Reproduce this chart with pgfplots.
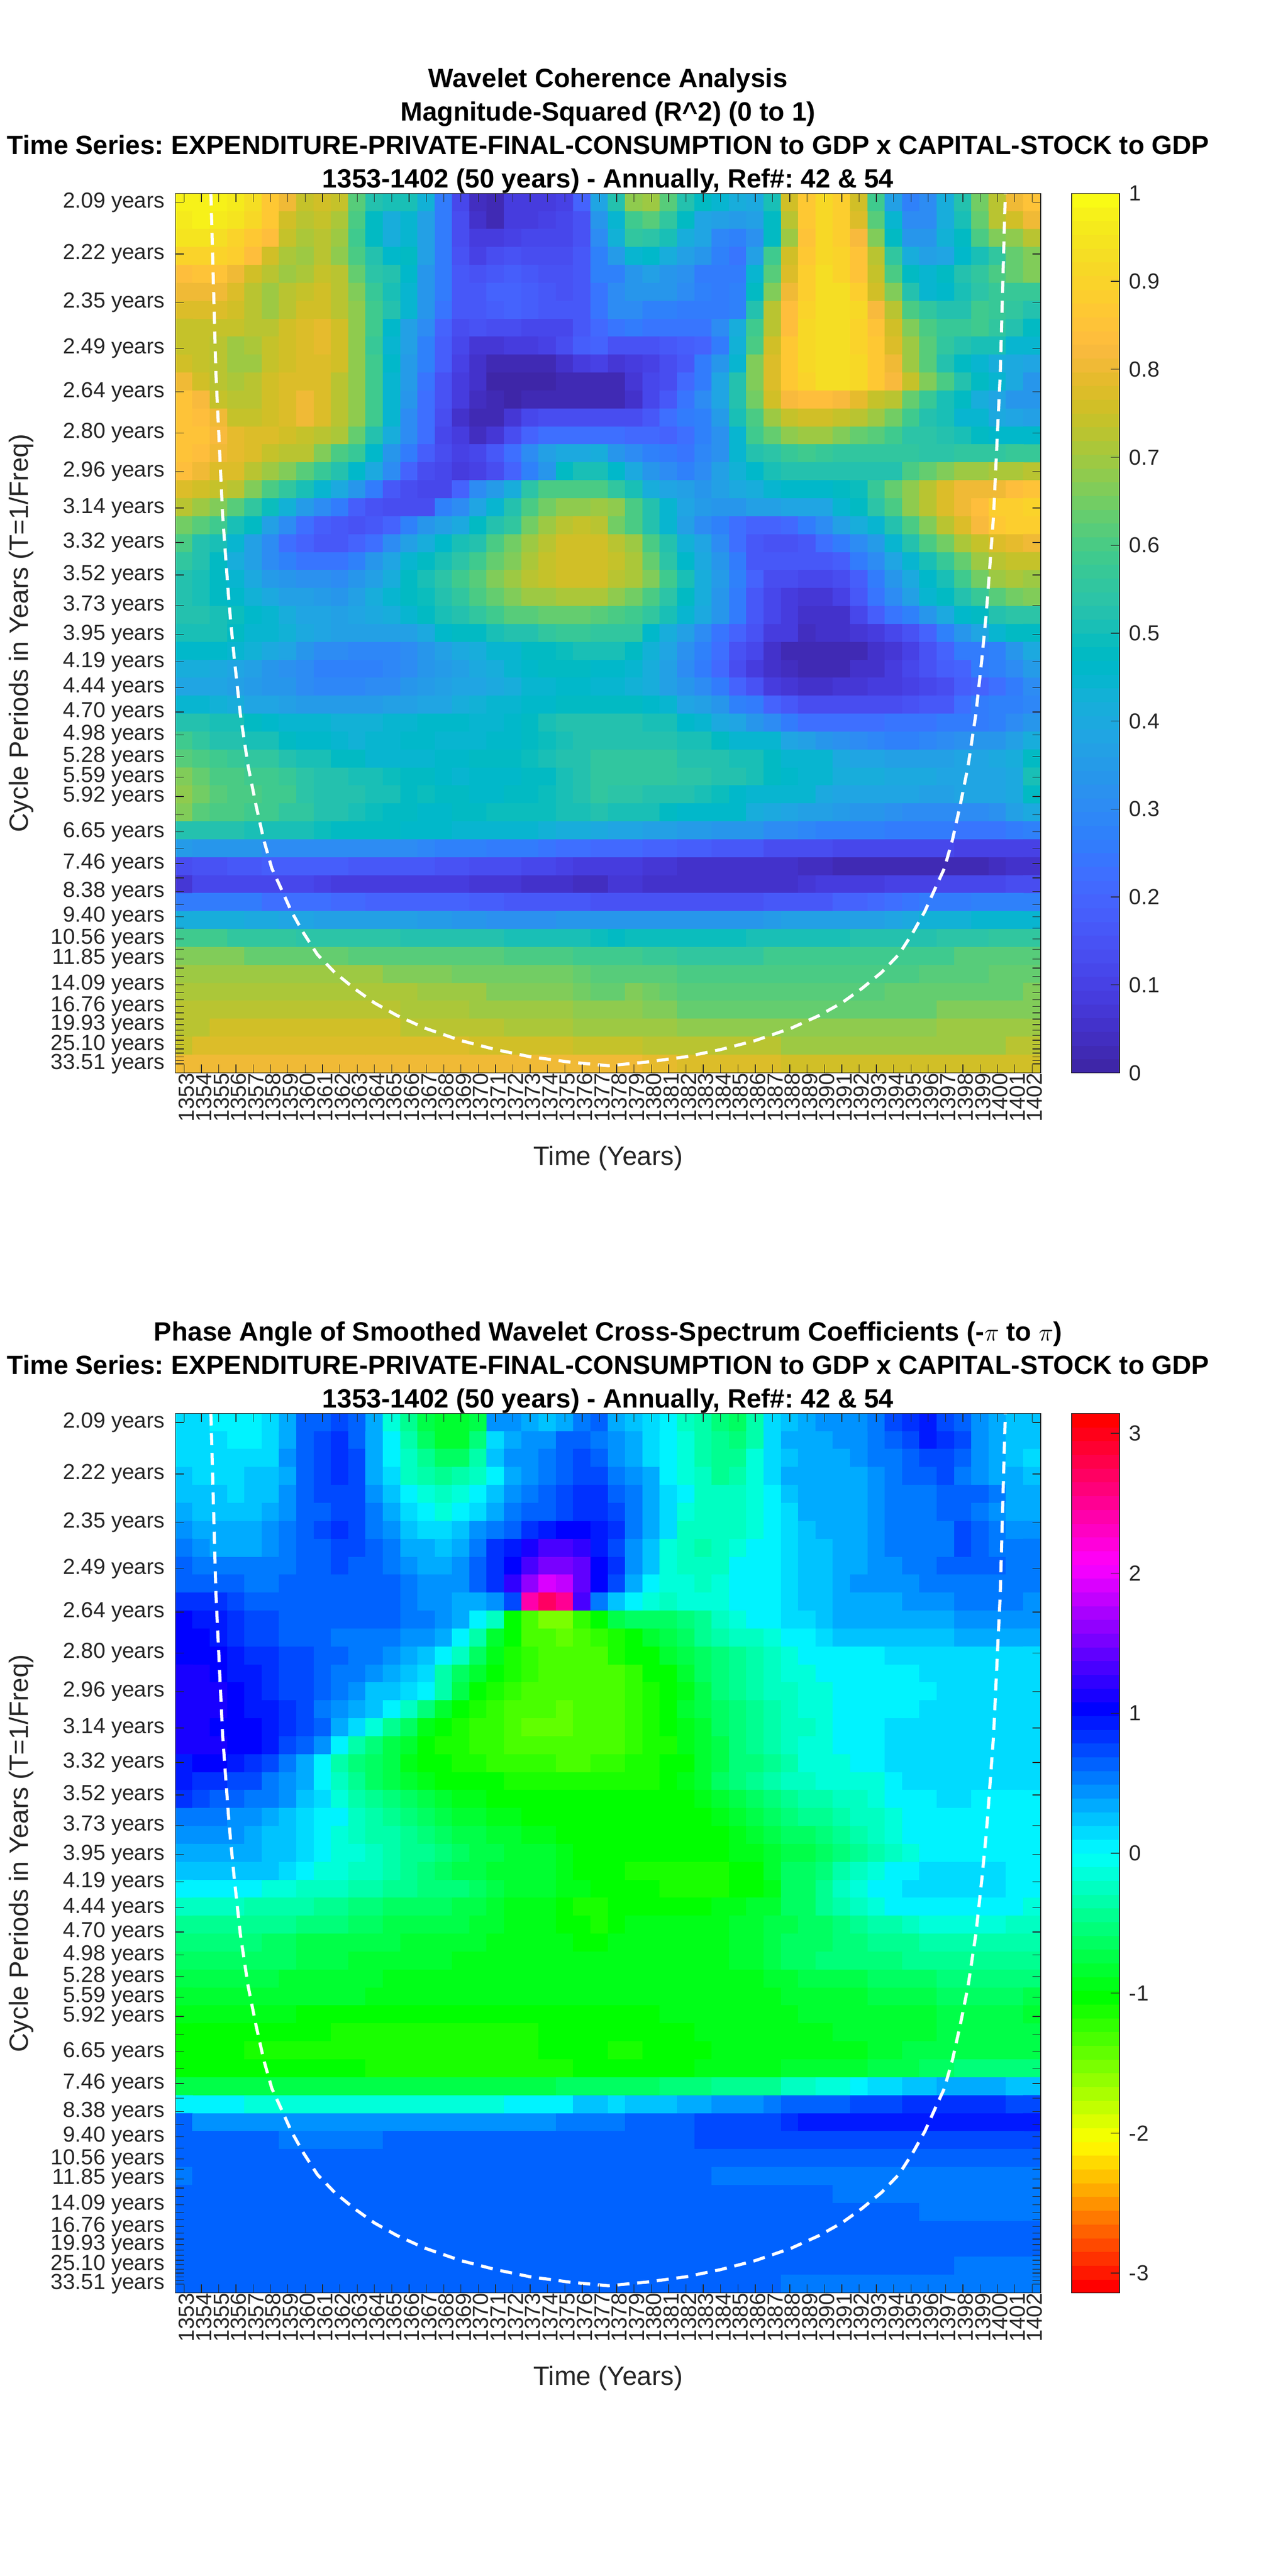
\documentclass[border=0pt]{standalone}
\usepackage{pgfplots}
\pgfplotsset{compat=1.18}
\usepackage{fontspec}
\setmainfont{Liberation Sans}
\frenchspacing
\definecolor{axc}{rgb}{.15,.15,.15}
\newcommand\TL[1]{{\fontsize{12.7}{12.7}\selectfont #1}}
\pgfplotsset{colorbar shift/.style={xshift=18pt}}
\pgfplotsset{colormap={parulaM}{
rgb=(0.2422,0.1504,0.6603) rgb=(0.2504,0.1650,0.7076) rgb=(0.2578,0.1818,0.7511) rgb=(0.2647,0.1978,0.7952)
rgb=(0.2706,0.2147,0.8364) rgb=(0.2751,0.2342,0.8710) rgb=(0.2783,0.2559,0.8991) rgb=(0.2803,0.2782,0.9221)
rgb=(0.2813,0.3006,0.9414) rgb=(0.2810,0.3228,0.9579) rgb=(0.2795,0.3447,0.9717) rgb=(0.2760,0.3667,0.9829)
rgb=(0.2699,0.3892,0.9906) rgb=(0.2602,0.4123,0.9952) rgb=(0.2440,0.4358,0.9988) rgb=(0.2206,0.4603,0.9973)
rgb=(0.1963,0.4847,0.9892) rgb=(0.1834,0.5074,0.9798) rgb=(0.1786,0.5289,0.9682) rgb=(0.1764,0.5499,0.9520)
rgb=(0.1687,0.5703,0.9359) rgb=(0.1540,0.5902,0.9218) rgb=(0.1460,0.6091,0.9079) rgb=(0.1380,0.6276,0.8973)
rgb=(0.1248,0.6459,0.8883) rgb=(0.1113,0.6635,0.8763) rgb=(0.0952,0.6798,0.8598) rgb=(0.0689,0.6948,0.8394)
rgb=(0.0297,0.7082,0.8163) rgb=(0.0036,0.7203,0.7917) rgb=(0.0067,0.7312,0.7660) rgb=(0.0433,0.7411,0.7394)
rgb=(0.0964,0.7500,0.7120) rgb=(0.1408,0.7584,0.6842) rgb=(0.1717,0.7670,0.6554) rgb=(0.1938,0.7758,0.6251)
rgb=(0.2161,0.7843,0.5923) rgb=(0.2470,0.7918,0.5567) rgb=(0.2906,0.7973,0.5188) rgb=(0.3406,0.8008,0.4789)
rgb=(0.3909,0.8029,0.4354) rgb=(0.4456,0.8024,0.3909) rgb=(0.5044,0.7993,0.3480) rgb=(0.5616,0.7942,0.3045)
rgb=(0.6174,0.7876,0.2612) rgb=(0.6720,0.7793,0.2227) rgb=(0.7242,0.7698,0.1910) rgb=(0.7738,0.7598,0.1646)
rgb=(0.8203,0.7498,0.1535) rgb=(0.8634,0.7406,0.1596) rgb=(0.9035,0.7330,0.1774) rgb=(0.9393,0.7288,0.2100)
rgb=(0.9728,0.7298,0.2394) rgb=(0.9956,0.7434,0.2371) rgb=(0.9970,0.7659,0.2199) rgb=(0.9952,0.7861,0.1990)
rgb=(0.9892,0.8073,0.1795) rgb=(0.9786,0.8270,0.1635) rgb=(0.9676,0.8485,0.1477) rgb=(0.9610,0.8720,0.1400)
rgb=(0.9597,0.8949,0.1200) rgb=(0.9626,0.9190,0.1100) rgb=(0.9691,0.9441,0.1000) rgb=(0.9769,0.9839,0.0805)}}
\pgfplotsset{colormap={hsvBase}{rgb=(1,0,0) rgb=(1,1,0) rgb=(0,1,0) rgb=(0,1,1) rgb=(0,0,1) rgb=(1,0,1) rgb=(1,0,0)}}
\pgfplotsset{colormap={hsvM}{samples of colormap=(64 of hsvBase)}}
\newcount\ri \newcount\ci
\def\addcell#1{\xdef\coords{\coords(\the\ci,\the\ri)[#1e\ex] }\global\advance\ci 1 }
\def\proc#1 {%
  \ifx X#1\relax
  \else
    \ifx /#1\relax
      \loop\ifnum\ci<50 \expandafter\addcell\expandafter{\lastv}\repeat
      \global\ci=0 \global\advance\ri 1
    \else
      \ifnum\ci<50 \def\lastv{#1}\addcell{#1}\fi
    \fi
    \expandafter\proc
  \fi}
\def\ex{-2}\gdef\coords{}\ci=0 \ri=0
\proc
97 98 97 96 93 87 80 74 76 74  62 52 50 50 43 26 12 04 03 08  09 09 10 20 38  53 68 70 62 52 47 45 42 40 50  75 87 92 88 76 58 37 27 30 42  52 65 72 80 85 /
96 97 96 95 92 86 76 72 74 71  60 47 42 44 37 26 13 05 03 08  09 10 11 15 33  45 58 62 55 47 39 37 35 36 48  73 86 91 89 78 62 45 30 30 42  50 63 72 76 80 /
94 94 93 90 87 83 74 71 73 69  58 48 42 44 37 26 13 09 08 10  12 12 12 15 30  43 55 54 50 42 38 29 28 32 47  70 85 91 88 82 66 48 33 33 43  47 60 66 68 73 /
90 90 90 88 84 76 71 70 72 68  60 52 46 47 36 25 15 10 13 15  14 13 13 16 27  35 44 46 42 37 33 27 24 37 58  76 87 92 90 85 72 55 42 37 38  46 50 56 63 67 /
84 85 85 80 76 73 69 71 74 72  64 54 52 46 34 25 17 15 17 18  17 15 15 17 27  28 33 37 33 32 26 25 26 44 62  78 88 93 90 85 74 60 47 45 47  52 56 60 64 66 /
81 81 80 77 73 70 72 74 75 72  66 57 50 45 34 25 17 17 19 19  18 16 15 17 24  30 33 34 33 30 27 25 27 47 66  80 89 93 93 88 76 66 53 45 46  50 54 57 57 57 /
78 78 78 75 72 70 73 75 75 73  68 58 52 44 34 24 17 17 18 19  18 16 16 17 24  30 31 28 27 26 25 25 27 52 72  84 90 93 93 91 82 72 60 55 52  53 58 57 56 52 /
74 74 74 74 72 73 76 78 79 75  68 58 46 36 30 20 14 15 14 13  12 11 11 17 21  24 25 24 24 24 24 30 42 58 72  84 91 93 93 90 85 76 66 60 57  57 58 55 52 48 /
74 74 72 70 71 74 76 78 79 75  68 57 45 36 28 18 11 07 07 09  09 10 13 18 20  15 15 15 16 18 20 26 43 60 75  86 92 93 93 90 87 78 70 62 56  52 50 50 45 44 /
75 74 72 70 70 74 76 77 78 75  68 58 46 35 27 18 10 05 02 02  02 03 06 08 10  07 08 10 13 16 25 33 44 66 77  86 92 93 93 91 87 80 70 62 52  47 45 42 40 38 /
80 75 72 71 73 75 77 78 78 73  68 58 45 35 24 15 08 05 01 01  01 01 02 02 03  03 07 12 14 21 26 38 53 66 77  86 90 93 93 91 87 82 74 66 60  53 47 44 40 33 /
85 82 74 72 73 76 78 81 78 73  68 58 45 33 23 15 08 04 02 01  03 03 02 02 02  02 06 11 16 24 30 38 52 65 76  82 83 84 82 79 74 72 64 57 51  47 42 38 34 33 /
85 84 81 74 74 76 78 80 78 73  68 58 45 31 22 14 06 03 03 07  12 13 13 14 14  13 13 17 22 25 27 35 50 60 70  74 76 76 74 72 70 65 58 52 50  45 44 40 38 36 /
85 85 82 79 77 77 75 74 72 71  64 53 42 30 22 12 08 04 07 13  20 23 22 22 23  22 21 21 19 22 27 32 44 58 63  68 70 69 67 64 62 58 54 54 52  50 47 46 46 46 /
85 84 81 79 78 74 73 72 66 60  57 46 33 26 18 13 10 11 16 22  30 37 40 40 42  33 31 28 25 24 29 32 44 52 54  57 59 57 56 56 56 56 55 54 54  55 56 56 57 57 /
83 81 78 77 73 69 66 62 57 52  46 40 30 20 13 11 09 10 14 20  27 34 48 50 50  46 40 34 30 28 30 37 43 46 50  52 52 52 52 52 52 53 60 64 67  70 70 71 71 73 /
78 76 74 72 66 60 55 50 45 40  33 25 17 13 12 12 20 30 35 42  54 60 60 60 60  55 50 42 38 36 34 37 40 42 45  46 46 46 47 49 57 63 68 73 77  80 81 81 84 85 /
72 70 67 62 55 49 43 35 30 26  18 15 13 13 14 28 31 38 45 53  60 65 68 68 70  68 60 52 44 38 35 33 33 36 37  39 38 38 45 47 54 60 68 73 77  80 83 88 88 90 /
65 62 58 50 47 37 30 22 18 16  15 17 19 28 33 36 40 47 52 55  65 70 73 74 72  65 60 52 44 36 31 27 23 20 20  21 26 31 36 42 44 53 60 67 72  78 82 86 88 88 /
60 53 50 45 37 30 23 20 17 17  19 22 30 36 42 46 50 53 60 65  69 73 75 75 75  72 70 60 52 43 38 31 23 17 15  15 17 22 25 30 35 44 52 60 65  71 74 78 79 81 /
55 52 47 42 36 30 27 24 24 24  28 33 38 44 47 50 54 58 63 67  71 74 76 76 75  74 71 63 54 46 40 33 25 17 17  16 16 17 18 25 31 38 45 51 57  63 70 72 74 74 /
53 51 47 45 40 35 33 32 32 31  33 37 42 47 51 54 58 62 67 70  72 74 75 75 75  73 71 66 58 50 42 35 28 20 14  13 12 12 13 18 26 33 40 46 50  58 65 70 71 70 /
52 51 47 46 43 40 37 36 35 34  37 41 44 47 49 52 56 60 64 67  69 70 71 71 71  68 65 60 54 47 42 34 26 17 11  09 07 07 10 16 24 31 37 44 47  52 57 62 65 66 /
52 52 50 49 46 44 41 39 38 37  38 40 42 45 47 50 52 56 59 61  62 63 64 64 62  60 59 55 51 45 40 33 26 16 11  08 06 05 06 12 18 24 28 33 40  46 48 52 54 54 /
50 50 50 48 45 45 43 40 38 37  36 36 36 37 40 46 47 47 50 52  53 55 57 57 56  55 55 46 42 37 30 24 20 15 09  08 04 05 05 07 09 11 15 20 27  33 38 44 47 48 /
46 46 46 44 43 40 38 33 31 30  29 29 29 30 33 36 40 42 44 45  47 48 49 50 50  50 47 43 38 32 28 22 15 11 06  03 02 02 02 03 05 07 10 15 20  25 25 27 33 40 /
42 41 40 38 36 33 32 30 28 27  27 27 29 31 33 35 37 40 42 44  46 47 47 47 46  46 45 42 36 30 25 21 14 09 06  04 02 02 03 05 06 09 11 15 18  20 25 28 31 35 /
39 39 38 37 35 34 33 31 29 29  29 30 31 33 35 36 38 39 40 42  44 45 46 46 45  45 43 41 37 33 30 25 20 15 09  07 05 06 07 07 08 08 10 12 14  18 20 22 26 30 /
45 44 43 41 39 38 36 35 35 35  35 35 36 37 38 39 41 43 44 45  46 46 47 47 47  47 47 46 45 39 37 33 28 25 20  17 14 14 13 13 13 13 15 17 17  22 25 27 28 29 /
52 52 50 50 48 46 44 44 44 43  43 43 44 44 46 46 46 45 45 46  48 50 52 52 52  52 52 50 50 46 44 40 38 33 30  26 23 22 23 23 23 24 24 24 25  25 26 28 31 33 /
58 56 52 52 50 50 47 46 46 44  43 44 45 46 46 45 45 45 46 46  47 49 50 52 52  52 52 52 52 50 50 47 45 45 44  38 36 34 32 30 29 28 28 29 30  32 33 34 37 42 /
62 60 58 57 55 55 52 50 50 48  47 45 45 44 44 46 46 47 47 47  49 50 52 53 55  55 56 55 55 53 52 52 50 50 47  45 44 44 40 38 38 37 37 36 36  38 39 40 42 48 /
67 63 60 60 58 58 57 54 53 52  50 50 49 48 48 46 45 46 46 46  47 48 50 53 55  55 55 55 55 54 54 53 52 50 48  46 45 45 42 42 42 40 40 40 39  38 38 38 40 50 /
68 65 62 60 60 58 58 54 53 52  52 50 50 48 49 47 47 46 46 47  48 49 50 52 55  54 54 52 52 52 50 49 46 45 45  44 44 40 39 39 38 38 38 37 37  38 38 38 40 47 /
66 62 60 60 58 58 56 55 53 52  51 49 48 47 46 46 47 47 49 49  49 49 50 51 52  50 50 50 47 46 46 46 46 42 40  38 37 36 35 34 33 32 31 31 30  30 31 32 36 40 /
53 53 52 52 51 50 50 50 49 48  48 47 47 46 46 46 45 44 44 44  44 43 42 42 40  38 38 36 36 35 35 34 33 33 31  30 29 28 28 27 27 26 26 25 25  24 24 24 25 27 /
35 33 33 33 33 31 31 31 30 30  30 31 30 30 29 28 28 27 26 25  25 24 23 22 21  21 21 20 19 18 18 17 17 16 14  14 14 13 12 12 12 12 12 12 12  10 10 10 10 10 /
14 15 15 16 17 18 18 18 18 18  17 17 17 16 16 15 15 14 13 13  12 11 10 09 08  08 08 07 07 06 06 06 05 05 05  05 04 04 03 03 03 03 03 03 03  03 03 04 05 06 /
07 11 12 12 12 12 12 12 10 09  09 09 09 08 08 08 08 07 07 07  06 06 05 04 04  07 07 06 05 05 05 05 05 05 05  06 07 08 09 09 09 10 10 10 11  11 12 12 13 13 /
25 25 25 25 25 23 23 22 22 21  21 20 20 19 19 19 19 18 18 17  17 17 17 16 15  15 15 15 15 15 15 15 15 15 16  16 17 17 19 20 21 23 24 25 26  26 27 27 27 27 /
42 42 42 42 40 40 39 38 37 36  36 36 36 37 35 35 34 33 32 32  32 32 33 33 33  33 33 33 33 33 33 33 33 33 35  36 36 37 37 37 37 38 40 43 43  43 45 45 45 45 /
58 58 58 55 55 55 55 54 54 54  54 54 54 53 53 53 53 52 52 51  51 50 50 50 49  48 49 49 49 49 49 49 49 50 51  51 51 51 51 52 52 52 52 52 54  54 54 56 56 56 /
66 66 66 66 64 64 64 64 64 64  62 62 62 62 62 62 61 61 61 60  60 60 60 59 59  59 58 57 57 56 56 56 56 56 58  58 58 58 59 59 59 59 59 59 59  61 61 61 62 62 /
70 70 70 70 70 70 70 70 70 70  70 70 67 67 67 67 65 65 65 65  65 65 65 63 62  62 62 62 61 60 60 60 60 60 60  60 60 60 60 60 60 60 60 62 62  62 62 63 63 63 /
71 71 71 71 71 71 71 71 71 71  71 71 71 71 69 69 69 69 67 67  67 67 67 65 64  64 66 65 64 62 62 62 62 62 62  62 62 62 62 62 62 63 63 64 64  64 64 64 64 66 /
73 73 73 73 73 73 73 73 73 73  73 73 73 71 71 71 71 70 70 70  70 70 70 68 68  68 68 66 66 64 64 64 64 64 64  64 64 64 64 64 64 64 64 64 66  66 66 66 66 66 /
73 73 75 75 75 75 75 75 75 75  75 75 75 73 73 73 73 73 73 71  71 71 71 70 70  70 70 70 70 68 68 68 68 68 68  68 68 68 68 68 68 68 68 68 69  69 69 69 69 69 /
74 78 78 78 78 78 78 78 78 78  78 78 78 78 78 78 78 76 76 76  76 76 76 74 74  74 74 72 72 72 72 72 72 72 72  70 70 70 70 70 70 70 70 70 70  70 70 70 72 72 /
81 81 81 81 81 81 81 81 81 81  81 81 81 81 81 81 81 81 81 81  81 81 81 81 81  80 80 79 79 77 77 77 77 77 77  76 76 76 76 76 76 76 76 76 76  76 76 76 76 76 /
X \relax
\global\let\coordsA\coords
\def\ex{-1}\gdef\coords{}\ci=0 \ri=0
\proc
1 1 0 0 0 1 3 6 6 7  6 3 -1 -4 -7 -8 -8 -7 4 4  3 2 3 5 6  3 2 1 0 -2 -3 -5 -6 -3 1  2 3 4 4 4 5 7 8 9 7  6 4 3 2 2 /
1 1 1 0 0 1 3 6 7 8  6 3 0 -3 -6 -8 -8 -5 1 3  4 4 6 6 5  4 3 1 0 -1 -3 -4 -5 -3 1  3 3 3 4 4 5 6 7 9 8  7 4 3 2 2 /
1 1 1 1 1 1 4 6 7 8  7 3 0 -2 -4 -6 -6 -3 2 4  4 5 6 7 6  4 3 1 0 -1 -3 -4 -4 -1 1  2 3 3 3 4 5 5 6 7 7  6 4 3 2 1 /
2 1 1 1 2 2 3 6 7 8  7 3 1 -2 -3 -4 -3 -2 0 3  4 5 6 7 7  5 4 3 0 -1 -2 -4 -3 -1 1  3 3 3 3 3 4 5 6 6 7  5 4 3 3 2 /
2 2 2 1 2 2 4 6 7 7  7 4 2 0 -1 -2 -1 0 2 4  5 6 7 8 8  6 5 3 1 0 -2 -2 -2 -1 0  2 3 3 3 3 4 5 5 5 6  6 6 5 3 3 /
3 2 2 2 2 3 4 6 6 7  7 5 3 1 0 -1 0 1 3 5  6 6 7 8 8  7 5 3 1 -1 -2 -2 -2 -1 0  1 3 3 3 3 4 5 5 5 6  6 5 4 3 3 /
4 3 3 3 3 4 5 6 7 8  7 5 4 2 1 1 2 4 5 6  8 9 10 10 9  8 5 3 1 -2 -2 -2 -2 -1 0  1 2 3 3 3 4 5 5 5 5  7 6 5 4 4 /
5 4 3 3 3 4 5 6 6 7  7 6 5 3 3 2 3 5 8 9  11 13 13 12 9  7 4 2 -1 -2 -3 -2 -1 0 0  1 2 2 3 3 4 5 5 5 5  7 6 5 5 5 /
6 5 5 5 5 5 5 6 6 7  6 6 5 4 3 3 4 6 8 10  13 15 15 14 10  8 4 2 -1 -2 -2 -2 0 0 0  1 2 2 3 3 4 4 5 5 6  6 6 6 5 5 /
6 6 6 6 5 5 6 6 6 6  6 6 6 5 4 4 4 6 8 12  16 19 18 14 10  7 3 0 -1 -1 -2 -1 0 0 0  1 2 2 3 4 4 4 4 5 5  5 5 5 5 5 /
8 8 8 7 6 6 6 6 6 6  6 6 6 5 4 4 3 3 4 7  24 27 25 13 5  2 0 -1 -2 -1 -1 -1 0 0 0  1 2 2 3 3 3 3 4 4 4  5 5 5 5 4 /
10 9 9 8 7 7 6 6 6 6  6 6 6 5 5 4 3 0 -2 -10  -13 -15 -15 -12 -10  -7 -6 -6 -6 -5 -4 -2 -1 0 0  1 1 2 3 3 3 3 3 3 3  4 4 4 4 4 /
10 10 9 8 7 7 6 6 6 5  5 5 5 4 4 3 0 -3 -8 -10  -13 -13 -14 -13 -12  -11 -10 -8 -7 -6 -4 -3 -2 -2 -1  0 0 1 2 2 2 2 2 2 2  3 3 3 3 3 /
10 10 10 9 8 8 7 7 6 6  5 5 4 3 2 0 -2 -6 -9 -11  -12 -13 -13 -13 -13  -11 -10 -10 -8 -7 -6 -5 -4 -3 -2  -1 0 0 0 0 0 1 1 1 1  1 1 1 1 1 /
11 11 10 9 9 8 7 7 6 5  5 4 3 2 1 -3 -6 -8 -10 -11  -12 -13 -13 -13 -13  -13 -12 -10 -10 -8 -6 -5 -4 -3 -2  -1 -1 0 0 0 0 0 0 1 1  1 1 1 1 1 /
11 11 11 10 9 8 7 7 6 5  4 2 2 1 0 -3 -7 -10 -11 -12  -13 -13 -13 -13 -13  -13 -12 -11 -10 -9 -7 -5 -4 -3 -2  -2 -1 -1 0 0 0 0 0 0 1  1 1 1 1 1 /
11 11 11 10 9 9 8 7 5 4  3 2 0 -2 -5 -8 -10 -11 -12 -13  -13 -13 -14 -13 -13  -13 -12 -11 -10 -8 -7 -6 -5 -4 -3  -2 -1 -1 0 0 0 0 0 1 1  1 1 1 1 1 /
11 11 10 10 10 9 8 7 6 3  1 -1 -4 -6 -9 -10 -11 -12 -12 -13  -14 -14 -14 -13 -13  -13 -12 -11 -10 -9 -8 -6 -5 -4 -3  -2 -2 -1 0 0 0 1 1 1 1  1 1 1 1 1 /
11 11 11 10 10 9 7 6 4 0  -3 -5 -7 -8 -10 -11 -11 -12 -12 -13  -13 -13 -13 -13 -13  -13 -12 -11 -11 -9 -8 -7 -5 -4 -3  -2 -1 -1 0 0 0 1 1 1 1  1 1 1 1 1 /
9 10 10 9 8 7 5 3 0 -3  -5 -6 -7 -9 -10 -10 -11 -11 -12 -12  -12 -12 -13 -13 -12  -12 -11 -11 -10 -10 -8 -7 -5 -5 -4  -3 -1 -1 -1 0 0 1 1 1 1  1 1 1 1 1 /
9 8 8 7 7 5 4 3 0 -2  -4 -6 -7 -8 -9 -10 -10 -10 -10 -11  -11 -11 -11 -11 -11  -11 -11 -11 -10 -9 -8 -6 -5 -4 -3  -2 -2 -1 -1 -1 -1 0 1 1 1  1 1 1 1 1 /
8 7 6 6 5 5 4 2 1 -1  -3 -4 -5 -6 -7 -8 -9 -9 -10 -10  -10 -10 -10 -10 -10  -10 -10 -10 -10 -10 -9 -8 -7 -6 -5  -4 -3 -3 -2 -2 -1 0 0 0 1  1 0 0 0 0 /
5 5 5 4 4 3 2 1 0 0  -2 -3 -4 -5 -6 -7 -8 -8 -9 -9  -10 -10 -10 -10 -10  -10 -10 -10 -10 -10 -10 -9 -8 -7 -6  -5 -4 -4 -3 -2 -2 -1 0 0 0  0 0 0 0 0 /
4 4 4 4 3 2 2 1 0 -1  -2 -3 -3 -4 -5 -6 -7 -7 -8 -8  -9 -9 -10 -10 -10  -10 -10 -10 -10 -10 -10 -10 -9 -8 -7  -6 -6 -5 -4 -3 -2 -1 0 0 0  0 0 0 0 0 /
3 3 3 3 3 2 2 1 0 -1  -1 -2 -3 -4 -4 -5 -6 -7 -7 -8  -8 -8 -9 -10 -10  -10 -10 -10 -10 -10 -10 -10 -9 -9 -8  -7 -7 -6 -5 -4 -3 -2 -1 0 0  0 0 0 0 0 /
2 2 2 2 2 2 1 0 -1 -1  -2 -2 -3 -4 -5 -6 -7 -7 -8 -8  -8 -8 -9 -10 -10  -10 -11 -11 -11 -11 -11 -11 -10 -10 -8  -6 -6 -5 -3 -2 -1 0 0 1 1  1 1 1 0 0 /
0 0 0 0 0 -1 -1 -2 -2 -2  -3 -3 -4 -4 -5 -5 -5 -6 -7 -8  -8 -8 -9 -9 -10  -10 -10 -10 -11 -11 -11 -11 -10 -10 -9  -6 -6 -4 -2 -1 0 0 1 1 1  1 1 1 0 0 /
-2 -2 -2 -2 -3 -3 -3 -3 -4 -4  -5 -5 -6 -6 -6 -6 -7 -7 -8 -9  -9 -9 -10 -11 -11  -10 -10 -10 -10 -10 -10 -9 -9 -8 -8  -6 -6 -4 -3 -2 -1 0 0 0 0  0 0 0 0 -1 /
-4 -4 -4 -4 -4 -4 -4 -5 -5 -5  -6 -6 -7 -7 -7 -7 -7 -8 -8 -9  -9 -9 -10 -10 -11  -10 -9 -9 -9 -9 -9 -9 -8 -8 -7  -7 -6 -6 -5 -4 -3 -3 -2 -1 -1  -1 -1 -1 -2 -2 /
-5 -5 -5 -5 -5 -6 -6 -7 -7 -7  -7 -7 -7 -8 -8 -8 -8 -8 -9 -9  -9 -9 -9 -10 -10  -9 -9 -9 -9 -9 -9 -9 -8 -8 -7  -6 -6 -6 -5 -5 -4 -4 -4 -3 -3  -3 -3 -3 -3 -3 /
-6 -6 -6 -6 -6 -6 -6 -7 -7 -7  -8 -8 -8 -8 -8 -8 -9 -9 -9 -9  -9 -9 -9 -9 -9  -9 -9 -9 -9 -9 -9 -9 -8 -8 -7  -6 -6 -5 -5 -5 -5 -5 -4 -4 -4  -4 -4 -4 -4 -4 /
-7 -7 -7 -7 -7 -7 -8 -8 -8 -8  -8 -8 -9 -9 -9 -9 -9 -9 -9 -9  -9 -9 -9 -9 -9  -9 -9 -9 -9 -9 -9 -9 -9 -9 -8  -8 -7 -7 -7 -7 -6 -6 -6 -6 -5  -5 -5 -5 -5 -5 /
-8 -8 -8 -8 -8 -8 -8 -8 -8 -8  -8 -9 -9 -9 -9 -9 -9 -9 -9 -9  -9 -9 -9 -9 -9  -9 -9 -9 -9 -9 -9 -9 -9 -9 -9  -8 -8 -8 -8 -8 -7 -7 -7 -7 -6  -6 -6 -6 -6 -7 /
-9 -9 -9 -9 -9 -9 -9 -10 -10 -10  -10 -10 -10 -10 -10 -10 -10 -10 -10 -10  -10 -10 -10 -10 -10  -10 -10 -10 -9 -9 -9 -9 -9 -9 -9  -9 -8 -8 -8 -8 -8 -8 -8 -8 -7  -7 -7 -7 -7 -8 /
-10 -10 -10 -10 -10 -10 -10 -10 -10 -11  -11 -11 -11 -11 -11 -11 -11 -11 -11 -11  -11 -10 -10 -10 -10  -10 -10 -10 -10 -10 -9 -9 -9 -9 -9  -9 -9 -9 -8 -8 -8 -8 -8 -8 -7  -7 -7 -7 -7 -7 /
-10 -10 -10 -10 -11 -11 -11 -11 -11 -11  -11 -11 -11 -11 -11 -11 -11 -11 -11 -11  -11 -10 -10 -10 -10  -11 -11 -10 -10 -10 -10 -9 -9 -9 -9  -9 -9 -9 -9 -9 -8 -8 -7 -7 -7  -7 -7 -7 -7 -7 /
-10 -10 -10 -10 -10 -10 -10 -10 -10 -10  -10 -11 -11 -11 -11 -11 -11 -11 -11 -11  -11 -11 -11 -10 -10  -10 -10 -10 -10 -10 -9 -9 -9 -9 -9  -8 -8 -8 -8 -8 -7 -7 -7 -6 -6  -5 -5 -5 -5 -5 /
-7 -7 -7 -7 -7 -7 -7 -7 -7 -7  -7 -7 -7 -7 -7 -7 -7 -7 -7 -7  -7 -7 -6 -6 -6  -6 -6 -6 -5 -5 -5 -4 -4 -4 -4  -2 -2 -1 -1 0 1 1 2 2 3  3 3 3 2 2 /
0 0 0 0 -1 -1 -1 -1 -1 -1  -1 -1 -1 -1 -1 -1 -1 -1 -1 0  0 0 0 2 2  1 2 2 2 3 3 4 4 4 5  6 6 6 6 7 7 7 8 8 8  8 8 8 7 7 /
6 4 4 4 4 4 4 4 4 4  4 4 4 4 4 4 4 4 4 4  4 4 5 5 5  5 6 6 6 6 7 7 7 7 7  8 9 9 9 9 9 9 9 9 9  9 9 9 9 9 /
6 6 6 6 6 6 5 5 5 5  5 5 6 6 6 6 6 6 6 6  6 6 6 6 6  6 6 6 6 6 7 7 7 7 7  7 7 7 7 7 7 7 7 7 7  7 7 7 7 7 /
6 6 6 6 6 6 6 6 6 6  6 6 6 6 6 6 6 6 6 6  6 6 6 6 6  6 6 6 6 6 6 6 6 6 6  6 6 6 6 6 6 6 6 6 6  6 6 6 6 6 /
5 6 6 6 6 6 6 6 6 6  6 6 6 6 6 6 6 6 6 6  6 6 6 6 6  6 6 6 6 6 6 5 5 5 5  5 5 5 5 5 5 5 5 5 5  5 5 5 5 5 /
6 6 6 6 6 6 6 6 6 6  6 6 6 6 6 6 6 6 6 6  6 6 6 6 6  6 6 6 6 6 6 6 6 6 6  6 6 6 5 5 5 5 5 5 5  5 5 5 5 5 /
6 6 6 6 6 6 6 6 6 6  6 6 6 6 6 6 6 6 6 6  6 6 6 6 6  6 6 6 6 6 6 6 6 6 6  6 6 6 6 6 6 6 6 5 5  5 5 5 5 5 /
6 6 6 6 6 6 6 6 6 6  6 6 6 6 6 6 6 6 6 6  6 6 6 6 6  6 6 6 6 6 6 6 6 6 6  6 6 6 6 6 6 6 6 6 6  6 6 6 6 6 /
6 6 6 6 6 6 6 6 6 6  6 6 6 6 6 6 6 6 6 6  6 6 6 6 6  6 6 6 6 6 6 6 6 6 6  6 6 6 6 6 6 6 6 6 6  6 6 6 6 6 /
6 6 6 6 6 6 6 6 6 6  6 6 6 6 6 6 6 6 6 6  6 6 6 6 6  6 6 6 6 6 6 6 6 6 6  6 6 6 6 6 6 6 6 6 6  5 5 5 5 5 /
6 6 6 6 6 6 6 6 6 6  6 6 6 6 6 6 6 6 6 6  6 6 6 6 6  6 6 6 6 6 6 6 6 6 6  5 5 5 5 5 5 5 5 5 5  5 5 5 5 5 /
X \relax
\global\let\coordsB\coords
\pgfplotsset{
  cellplot/.style={matrix plot*, point meta=explicit, mesh/cols=50},
  coi/.style={white, line width=1.8pt, dash pattern=on 7pt off 4.5pt, mark=none},
  wave/.style={
    scale only axis, width=504.07pt, height=512.3pt, anchor=south west,
    xmin=-0.5, xmax=49.5, ymin=-0.5, ymax=48.5, y dir=reverse, enlargelimits=false, axis on top,
    colormap access=piecewise constant,
    tick align=inside, major tick length=5pt, tick style={color=axc, line width=0.4pt}, axis line style={color=axc, line width=0.5pt},
    xtick={0,...,49},
    xticklabels={\TL{1353},\TL{1354},\TL{1355},\TL{1356},\TL{1357},\TL{1358},\TL{1359},\TL{1360},\TL{1361},\TL{1362},\TL{1363},\TL{1364},\TL{1365},\TL{1366},\TL{1367},\TL{1368},\TL{1369},\TL{1370},\TL{1371},\TL{1372},\TL{1373},\TL{1374},\TL{1375},\TL{1376},\TL{1377},\TL{1378},\TL{1379},\TL{1380},\TL{1381},\TL{1382},\TL{1383},\TL{1384},\TL{1385},\TL{1386},\TL{1387},\TL{1388},\TL{1389},\TL{1390},\TL{1391},\TL{1392},\TL{1393},\TL{1394},\TL{1395},\TL{1396},\TL{1397},\TL{1398},\TL{1399},\TL{1400},\TL{1401},\TL{1402}},
    ytick={0,2.874,5.586,8.146,10.562,12.844,14.996,17.028,18.946,20.756,22.465,24.078,25.6,27.037,28.393,29.673,30.881,32.022,33.098,34.114,35.073,35.978,36.832,37.639,38.4,39.118,39.797,40.437,41.04,41.611,42.149,42.657,43.136,43.589,44.016,44.42,44.8,45.159,45.498,45.818,46.12,46.406,46.675,46.928,47.168,47.394,47.608,47.81,48},
    yticklabels={\TL{2.09 years},\TL{2.22 years},\TL{2.35 years},\TL{2.49 years},\TL{2.64 years},\TL{2.80 years},\TL{2.96 years},\TL{3.14 years},\TL{3.32 years},\TL{3.52 years},\TL{3.73 years},\TL{3.95 years},\TL{4.19 years},\TL{4.44 years},\TL{4.70 years},\TL{4.98 years},\TL{5.28 years},\TL{5.59 years},\TL{5.92 years},{},\TL{6.65 years},{},\TL{7.46 years},{},\TL{8.38 years},{},\TL{9.40 years},{},\TL{10.56 years},{},\TL{11.85 years},{},{},\TL{14.09 years},{},{},\TL{16.76 years},{},{},\TL{19.93 years},{},{},{},\TL{25.10 years},{},{},{},{},\TL{33.51 years}},
    xticklabel style={rotate=90, anchor=east, inner sep=0pt, yshift=-1.5pt, color=axc},
    yticklabel style={inner sep=0pt, xshift=-6pt, color=axc},
    xlabel={Time (Years)}, ylabel={Cycle Periods in Years (T=1/Freq)},
    xlabel style={at={(axis description cs:0.5,-0.097)}, anchor=center, font=\fontsize{15.4}{18}\selectfont, color=axc},
    ylabel style={at={(axis description cs:-0.178,0.5)}, anchor=center, font=\fontsize{15.4}{18}\selectfont, color=axc},
    title style={at={(axis description cs:0.5,1)}, anchor=south, align=center, inner sep=0pt, yshift=-6pt, font=\fontsize{15.4}{19.45}\bfseries\selectfont, color=black},
    colorbar sampled,
  },
  cbstyle/.style={
    at={(parent axis.north east)}, anchor=north west, width=27.84pt, height=512.3pt, scale only axis,
    samples=65, tick align=inside, major tick length=5pt, tick style={color=axc, line width=0.4pt}, axis line style={color=axc, line width=0.5pt},
    ytick pos=right, yticklabel pos=right,
    yticklabel style={inner sep=0pt, xshift=5.5pt, color=axc, anchor=west},
  },
}
\begin{document}
\begin{tikzpicture}
\path[use as bounding box] (0,0) rectangle (750pt,1500.48pt);
\begin{axis}[wave, at={(102.17pt,875.52pt)},
  title={Wavelet Coherence Analysis\\Magnitude-Squared (R\textasciicircum 2) (0 to 1)\\Time Series: EXPENDITURE-PRIVATE-FINAL-CONSUMPTION to GDP x CAPITAL-STOCK to GDP\\1353-1402 (50 years) - Annually, Ref\#: 42 \& 54},
  colormap name=parulaM, point meta min=0, point meta max=1,
  colorbar style={cbstyle, ytick={0,0.1,0.2,0.3,0.4,0.5,0.6,0.7,0.8,0.9,1}, yticklabels={\TL{0},\TL{0.1},\TL{0.2},\TL{0.3},\TL{0.4},\TL{0.5},\TL{0.6},\TL{0.7},\TL{0.8},\TL{0.9},\TL{1}}},
]
\edef\tmp{\noexpand\addplot[cellplot] coordinates {\coordsA};}\tmp
\addplot[coi] coordinates {(1.55,-0.5)(1.84,9.5)(2.23,17.46)(2.57,21.95)(2.68,23.2)(2.9,25.4)(3.25,28.5)(3.7,31.4)(4.16,33.6)(4.6,35.5)(5.07,37.1)(5.64,38.3)(6.2,39.5)(6.9,40.7)(7.7,41.9)(8.7,42.9)(9.84,43.8)(11,44.6)(12.3,45.3)(13.9,46)(16,46.7)(18,47.2)(20,47.6)(22.3,47.9)(24.5,48.1)(26.7,47.9)(29,47.6)(31,47.2)(33,46.7)(35.1,46)(36.7,45.3)(38,44.6)(39.16,43.8)(40.3,42.9)(41.3,41.9)(42.1,40.7)(42.8,39.5)(43.36,38.3)(43.93,37.1)(44.4,35.5)(44.84,33.6)(45.3,31.4)(45.75,28.5)(46.1,25.4)(46.32,23.2)(46.43,21.95)(46.77,17.46)(47.16,9.5)(47.45,-0.5)};
\end{axis}
\begin{axis}[wave, at={(102.17pt,164.88pt)},
  title={Phase Angle of Smoothed Wavelet Cross-Spectrum Coefficients (-$\pi$ to $\pi$)\\Time Series: EXPENDITURE-PRIVATE-FINAL-CONSUMPTION to GDP x CAPITAL-STOCK to GDP\\1353-1402 (50 years) - Annually, Ref\#: 42 \& 54},
  colormap name=hsvM, point meta min=-3.1416, point meta max=3.1416,
  colorbar style={cbstyle, ytick={-3,-2,-1,0,1,2,3}, yticklabels={\TL{-3},\TL{-2},\TL{-1},\TL{0},\TL{1},\TL{2},\TL{3}}},
]
\edef\tmp{\noexpand\addplot[cellplot] coordinates {\coordsB};}\tmp
\addplot[coi] coordinates {(1.55,-0.5)(1.84,9.5)(2.23,17.46)(2.57,21.95)(2.68,23.2)(2.9,25.4)(3.25,28.5)(3.7,31.4)(4.16,33.6)(4.6,35.5)(5.07,37.1)(5.64,38.3)(6.2,39.5)(6.9,40.7)(7.7,41.9)(8.7,42.9)(9.84,43.8)(11,44.6)(12.3,45.3)(13.9,46)(16,46.7)(18,47.2)(20,47.6)(22.3,47.9)(24.5,48.1)(26.7,47.9)(29,47.6)(31,47.2)(33,46.7)(35.1,46)(36.7,45.3)(38,44.6)(39.16,43.8)(40.3,42.9)(41.3,41.9)(42.1,40.7)(42.8,39.5)(43.36,38.3)(43.93,37.1)(44.4,35.5)(44.84,33.6)(45.3,31.4)(45.75,28.5)(46.1,25.4)(46.32,23.2)(46.43,21.95)(46.77,17.46)(47.16,9.5)(47.45,-0.5)};
\end{axis}
\end{tikzpicture}
\end{document}
